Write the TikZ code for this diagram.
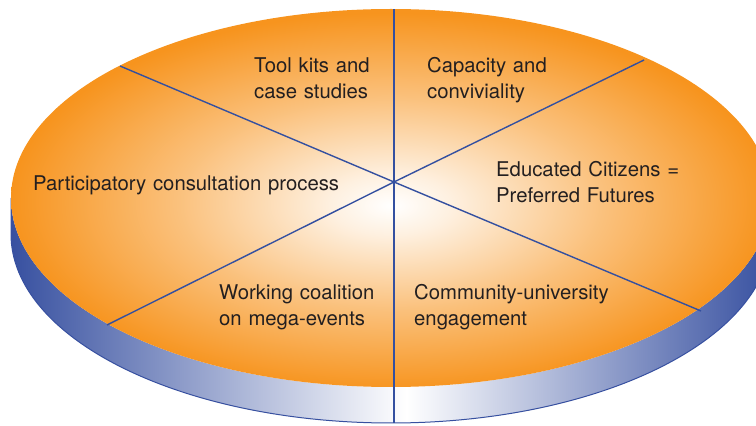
\documentclass[tikz,border=0pt]{standalone}
\usepackage{fontspec}
\setmainfont{TeX Gyre Heros}
\usetikzlibrary{positioning}
\definecolor{discorange}{RGB}{247,148,30}
\definecolor{rimblue}{RGB}{55,80,160}
\definecolor{spokeblue}{RGB}{52,80,160}
\definecolor{inktext}{RGB}{35,31,32}
\pgfdeclareradialshading{discglow}{\pgfpoint{0bp}{-1bp}}{color(0bp)=(white); color(4bp)=(white!86!discorange); color(14bp)=(discorange!58!white); color(25bp)=(discorange); color(50bp)=(discorange)}
\pgfdeclarehorizontalshading{rimglow}{100bp}{color(0bp)=(rimblue); color(25bp)=(rimblue); color(51bp)=(white); color(75bp)=(rimblue); color(100bp)=(rimblue)}

\begin{document}
\begin{tikzpicture}[
     x=1pt, y=1pt,
     % define styles
     spoke/.style={
         draw=spokeblue,
         line width=1.4pt
     },
     sector/.style={
         anchor=base west,
         inner sep=0pt,
         text=inktext,
         text width=330pt,
         align=left,
         font=\fontsize{20.3}{26}\selectfont
     }
]
\useasboundingbox (0,0) rectangle (756,426);
\clip (0,0) rectangle (756,426);

% rim of the disc
\shade[shading=rimglow]
   (11,228) -- (11,192) arc[start angle=180, end angle=360, x radius=380, y radius=189]
   -- (771,228) arc[start angle=0, end angle=-180, x radius=380, y radius=189] -- cycle;
\draw[rimblue, line width=1pt]
   (11,228) -- (11,192) arc[start angle=180, end angle=360, x radius=380, y radius=189]
   -- (771,228);
% top face
\shade[shading=discglow] (391,228) ellipse[x radius=380, y radius=189];

% spokes
\coordinate (hub) at (394,244);
\coordinate (top) at (394,417);
\coordinate (bottom) at (394,3);
\coordinate (ul) at (120,360);
\coordinate (ur) at (644,366);
\coordinate (ll) at (107,101);
\coordinate (lr) at (701,115);
\foreach \tip in {top,bottom,ul,ur,ll,lr}
    \draw[spoke] (hub) -- (\tip);

% sector texts
\node[sector] (toolkits)  at (254,353) {Tool kits and\\case studies};
\node[sector] (capacity)  at (427,353) {Capacity and\\conviviality};
\node[sector] (citizens)  at (496,249) {Educated Citizens =\\Preferred Futures};
\node[sector] (consult)   at (33,235)  {Participatory consultation process};
\node[sector] (coalition) at (219,126) {Working coalition\\on mega-events};
\node[sector] (community) at (414,126) {Community-university\\engagement};

\end{tikzpicture}
\end{document}
